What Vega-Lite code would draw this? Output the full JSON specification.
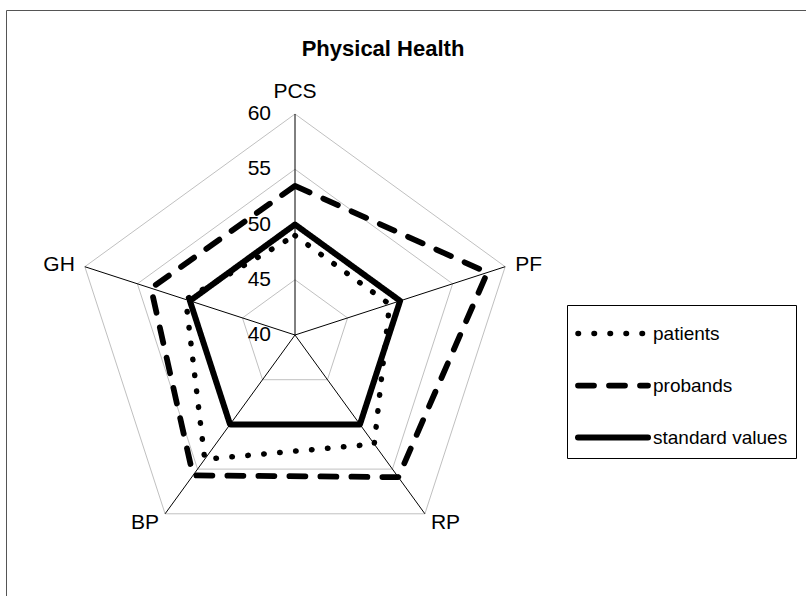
{
  "$schema": "https://vega.github.io/schema/vega-lite/v6.json",
  "autosize": "none",
  "width": 820,
  "height": 600,
  "padding": {"left": 6, "top": 10, "right": 0, "bottom": 0},
  "background": "white",
  "config": {
    "view": {"stroke": "#555555", "strokeWidth": 1},
    "font": "Liberation Sans",
    "text": {"font": "Liberation Sans", "fontSize": 21, "color": "black"},
    "legend": {
      "orient": "none",
      "legendX": 561,
      "legendY": 295,
      "strokeColor": "black",
      "strokeWidth": 1,
      "fillColor": "white",
      "padding": 8,
      "symbolType": "M-1,0H3",
      "symbolSize": 1225,
      "symbolStrokeWidth": 5,
      "symbolStrokeColor": "black",
      "symbolFillColor": "transparent",
      "labelFont": "Liberation Sans",
      "labelFontSize": 19,
      "labelColor": "black",
      "labelOffset": 37,
      "rowPadding": 20
    }
  },
  "title": {
    "text": "Physical Health",
    "anchor": "middle",
    "frame": "group",
    "dx": -33,
    "dy": 55,
    "font": "Liberation Sans",
    "fontSize": 22,
    "fontWeight": "bold",
    "color": "black"
  },
  "datasets": {
    "grid": [
      {"ring": 45, "axis": "PCS"}, {"ring": 45, "axis": "PF"}, {"ring": 45, "axis": "RP"}, {"ring": 45, "axis": "BP"}, {"ring": 45, "axis": "GH"},
      {"ring": 50, "axis": "PCS"}, {"ring": 50, "axis": "PF"}, {"ring": 50, "axis": "RP"}, {"ring": 50, "axis": "BP"}, {"ring": 50, "axis": "GH"},
      {"ring": 55, "axis": "PCS"}, {"ring": 55, "axis": "PF"}, {"ring": 55, "axis": "RP"}, {"ring": 55, "axis": "BP"}, {"ring": 55, "axis": "GH"},
      {"ring": 60, "axis": "PCS"}, {"ring": 60, "axis": "PF"}, {"ring": 60, "axis": "RP"}, {"ring": 60, "axis": "BP"}, {"ring": 60, "axis": "GH"}
    ],
    "axes": [
      {"axis": "PCS", "max": 60}, {"axis": "PF", "max": 60}, {"axis": "RP", "max": 60}, {"axis": "BP", "max": 60}, {"axis": "GH", "max": 60}
    ],
    "ticks": [
      {"tick": 40}, {"tick": 45}, {"tick": 50}, {"tick": 55}, {"tick": 60}
    ],
    "series": [
      {"series": "patients", "axis": "PCS", "value": 49.0},
      {"series": "patients", "axis": "PF", "value": 49.0},
      {"series": "patients", "axis": "RP", "value": 52.2},
      {"series": "patients", "axis": "BP", "value": 53.9},
      {"series": "patients", "axis": "GH", "value": 50.4},
      {"series": "probands", "axis": "PCS", "value": 53.5},
      {"series": "probands", "axis": "PF", "value": 58.3},
      {"series": "probands", "axis": "RP", "value": 55.9},
      {"series": "probands", "axis": "BP", "value": 55.7},
      {"series": "probands", "axis": "GH", "value": 53.7},
      {"series": "standard values", "axis": "PCS", "value": 50},
      {"series": "standard values", "axis": "PF", "value": 50},
      {"series": "standard values", "axis": "RP", "value": 50},
      {"series": "standard values", "axis": "BP", "value": 50},
      {"series": "standard values", "axis": "GH", "value": 50}
    ]
  },
  "layer": [
    {
      "data": {"name": "grid"},
      "transform": [
        {"calculate": "indexof(['PCS','PF','RP','BP','GH'], datum.axis)", "as": "i"},
        {"calculate": "PI/2 - datum.i*2*PI/5", "as": "ang"},
        {"calculate": "(datum.ring-40)*cos(datum.ang)", "as": "px"},
        {"calculate": "(datum.ring-40)*sin(datum.ang)", "as": "py"}
      ],
      "mark": {"type": "line", "interpolate": "linear-closed", "stroke": "#c0c0c0", "strokeWidth": 1},
      "encoding": {
        "x": {"field": "px", "type": "quantitative", "scale": {"domain": [-26.154, 48.054], "nice": false, "zero": false}, "axis": null},
        "y": {"field": "py", "type": "quantitative", "scale": {"domain": [-24.887, 29.412], "nice": false, "zero": false}, "axis": null},
        "detail": {"field": "ring", "type": "nominal"},
        "order": {"field": "i", "type": "quantitative"}
      }
    },
    {
      "data": {"name": "axes"},
      "transform": [
        {"calculate": "indexof(['PCS','PF','RP','BP','GH'], datum.axis)", "as": "i"},
        {"calculate": "PI/2 - datum.i*2*PI/5", "as": "ang"},
        {"calculate": "(datum.max-40)*cos(datum.ang)", "as": "px"},
        {"calculate": "(datum.max-40)*sin(datum.ang)", "as": "py"}
      ],
      "mark": {"type": "rule", "stroke": "black", "strokeWidth": 1},
      "encoding": {
        "x": {"field": "px", "type": "quantitative"},
        "y": {"field": "py", "type": "quantitative"},
        "x2": {"datum": 0},
        "y2": {"datum": 0}
      }
    },
    {
      "data": {"name": "series"},
      "transform": [
        {"calculate": "indexof(['PCS','PF','RP','BP','GH'], datum.axis)", "as": "i"},
        {"calculate": "PI/2 - datum.i*2*PI/5", "as": "ang"},
        {"calculate": "(datum.value-40)*cos(datum.ang)", "as": "px"},
        {"calculate": "(datum.value-40)*sin(datum.ang)", "as": "py"}
      ],
      "mark": {"type": "line", "interpolate": "linear-closed", "stroke": "black", "strokeCap": "round", "strokeJoin": "round"},
      "encoding": {
        "x": {"field": "px", "type": "quantitative"},
        "y": {"field": "py", "type": "quantitative"},
        "order": {"field": "i", "type": "quantitative"},
        "strokeWidth": {
          "field": "series",
          "type": "nominal",
          "scale": {"domain": ["patients", "probands", "standard values"], "range": [5.5, 6, 4.5]},
          "legend": null
        },
        "strokeDash": {
          "field": "series",
          "type": "nominal",
          "scale": {"domain": ["patients", "probands", "standard values"], "range": [[0.5, 15.5], [16, 15], [1, 0]]},
          "legend": {
            "title": null,
            "encode": {"symbols": {"update": {"strokeCap": {"value": "round"}}}}
          }
        }
      }
    },
    {
      "data": {"name": "ticks"},
      "transform": [{"calculate": "datum.tick-40", "as": "py"}],
      "mark": {"type": "text", "align": "right", "baseline": "middle", "dx": -24, "fontSize": 21},
      "encoding": {
        "x": {"datum": 0, "type": "quantitative"},
        "y": {"field": "py", "type": "quantitative"},
        "text": {"field": "tick", "type": "quantitative"}
      }
    },
    {
      "data": {"name": "axes"},
      "transform": [
        {"calculate": "indexof(['PCS','PF','RP','BP','GH'], datum.axis)", "as": "i"},
        {"calculate": "PI/2 - datum.i*2*PI/5", "as": "ang"},
        {"calculate": "(datum.max-40)*cos(datum.ang)", "as": "px"},
        {"calculate": "(datum.max-40)*sin(datum.ang)", "as": "py"},
        {"filter": "datum.axis == 'PCS'"}
      ],
      "mark": {"type": "text", "align": "center", "baseline": "middle", "dy": -22, "fontSize": 21},
      "encoding": {
        "x": {"field": "px", "type": "quantitative"},
        "y": {"field": "py", "type": "quantitative"},
        "text": {"field": "axis", "type": "nominal"}
      }
    },
    {
      "data": {"name": "axes"},
      "transform": [
        {"calculate": "indexof(['PCS','PF','RP','BP','GH'], datum.axis)", "as": "i"},
        {"calculate": "PI/2 - datum.i*2*PI/5", "as": "ang"},
        {"calculate": "(datum.max-40)*cos(datum.ang)", "as": "px"},
        {"calculate": "(datum.max-40)*sin(datum.ang)", "as": "py"},
        {"filter": "datum.axis == 'PF'"}
      ],
      "mark": {"type": "text", "align": "left", "baseline": "middle", "dx": 10, "dy": -2, "fontSize": 21},
      "encoding": {
        "x": {"field": "px", "type": "quantitative"},
        "y": {"field": "py", "type": "quantitative"},
        "text": {"field": "axis", "type": "nominal"}
      }
    },
    {
      "data": {"name": "axes"},
      "transform": [
        {"calculate": "indexof(['PCS','PF','RP','BP','GH'], datum.axis)", "as": "i"},
        {"calculate": "PI/2 - datum.i*2*PI/5", "as": "ang"},
        {"calculate": "(datum.max-40)*cos(datum.ang)", "as": "px"},
        {"calculate": "(datum.max-40)*sin(datum.ang)", "as": "py"},
        {"filter": "datum.axis == 'GH'"}
      ],
      "mark": {"type": "text", "align": "right", "baseline": "middle", "dx": -10, "dy": -2, "fontSize": 21},
      "encoding": {
        "x": {"field": "px", "type": "quantitative"},
        "y": {"field": "py", "type": "quantitative"},
        "text": {"field": "axis", "type": "nominal"}
      }
    },
    {
      "data": {"name": "axes"},
      "transform": [
        {"calculate": "indexof(['PCS','PF','RP','BP','GH'], datum.axis)", "as": "i"},
        {"calculate": "PI/2 - datum.i*2*PI/5", "as": "ang"},
        {"calculate": "(datum.max-40)*cos(datum.ang)", "as": "px"},
        {"calculate": "(datum.max-40)*sin(datum.ang)", "as": "py"},
        {"filter": "datum.axis == 'RP'"}
      ],
      "mark": {"type": "text", "align": "left", "baseline": "middle", "dx": 6, "dy": 9, "fontSize": 21},
      "encoding": {
        "x": {"field": "px", "type": "quantitative"},
        "y": {"field": "py", "type": "quantitative"},
        "text": {"field": "axis", "type": "nominal"}
      }
    },
    {
      "data": {"name": "axes"},
      "transform": [
        {"calculate": "indexof(['PCS','PF','RP','BP','GH'], datum.axis)", "as": "i"},
        {"calculate": "PI/2 - datum.i*2*PI/5", "as": "ang"},
        {"calculate": "(datum.max-40)*cos(datum.ang)", "as": "px"},
        {"calculate": "(datum.max-40)*sin(datum.ang)", "as": "py"},
        {"filter": "datum.axis == 'BP'"}
      ],
      "mark": {"type": "text", "align": "right", "baseline": "middle", "dx": -6, "dy": 9, "fontSize": 21},
      "encoding": {
        "x": {"field": "px", "type": "quantitative"},
        "y": {"field": "py", "type": "quantitative"},
        "text": {"field": "axis", "type": "nominal"}
      }
    }
  ]
}
